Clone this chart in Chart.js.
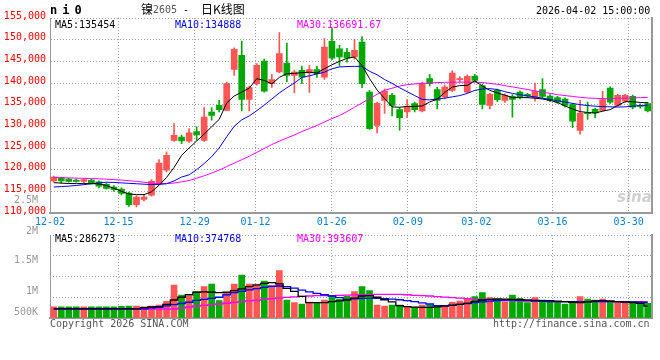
<!DOCTYPE html>
<html>
<head>
<meta charset="utf-8">
<script src="https://cdn.jsdelivr.net/npm/chart.js@4.4.1/dist/chart.umd.min.js"></script>
<style>
  body { margin: 0; background: #fff; width: 660px; height: 360px; position: relative; overflow: hidden; font-family: "DejaVu Sans Mono", monospace; }
  canvas { position: absolute; left: 0; }
  #price { top: 0; }
  #vol { top: 190px; }
  .t { position: absolute; font-size: 10px; line-height: 10px; white-space: nowrap; }
  .cjk { font-family: 'Noto Sans CJK SC', sans-serif; font-size: 12px; line-height: 12px; }
</style>
</head>
<body>
<canvas id="price" width="660" height="225" style="width:660px;height:225px"></canvas>
<canvas id="vol" width="660" height="170" style="width:660px;height:170px"></canvas>

<div class="t" style="left:50px;top:4px;font-size:12px;line-height:12px;font-weight:bold;letter-spacing:5px">ni0</div>
<div class="t cjk" style="left:141px;top:3px">镍</div>
<div class="t" style="left:153px;top:5px;color:#555">2605</div>
<div class="t" style="left:183px;top:5px">-</div>
<div class="t cjk" style="left:201px;top:3px">日K线图</div>
<div class="t" style="left:536px;top:6px">2026-04-02 15:00:00</div>

<div class="t" style="left:55px;top:19.5px;color:#000">MA5:135454</div>
<div class="t" style="left:175px;top:19.5px;color:#0000ff">MA10:134888</div>
<div class="t" style="left:297px;top:19.5px;color:#ff00ff">MA30:136691.67</div>

<div class="t" style="left:55px;top:234px;color:#000">MA5:286273</div>
<div class="t" style="left:175px;top:234px;color:#0000ff">MA10:374768</div>
<div class="t" style="left:297px;top:234px;color:#ff00ff">MA30:393607</div>

<div class="t" style="left:617px;top:190px;font-family:'DejaVu Sans';font-size:15px;line-height:15px;font-style:italic;font-weight:bold;color:rgba(150,150,150,0.45)">sina</div>

<div class="t" style="left:50px;top:319px;color:#555">Copyright 2026 SINA.COM</div>
<div class="t" style="left:493px;top:319px;color:#555">http://finance.sina.com.cn</div>

<script>
// trading days 12-02 .. 04-02
const dates = [
  '12-02','12-03','12-04','12-05','12-08','12-09','12-10','12-11','12-12',
  '12-15','12-16','12-17','12-18','12-19','12-22','12-23','12-24','12-25','12-26',
  '12-29','12-30','12-31','01-05','01-06','01-07','01-08','01-09',
  '01-12','01-13','01-14','01-15','01-16','01-19','01-20','01-21','01-22','01-23',
  '01-26','01-27','01-28','01-29','01-30','02-02','02-03','02-04','02-05','02-06',
  '02-09','02-10','02-11','02-12','02-13','02-24','02-25','02-26','02-27',
  '03-02','03-03','03-04','03-05','03-06','03-09','03-10','03-11','03-12','03-13',
  '03-16','03-17','03-18','03-19','03-20','03-23','03-24','03-25','03-26','03-27',
  '03-30','03-31','04-01','04-02'
];
const tickDates = ['12-02','12-15','12-29','01-12','01-26','02-09','03-02','03-16','03-30'];

const open = [
  117400,118100,117800,117600,117300,117600,117200,116600,116000,115500,
  114600,111900,113150,114100,116800,119900,126770,127530,126600,128800,
  126770,133300,134840,133690,143150,146380,136230,139850,145060,139850,
  142530,144600,141760,142920,142300,143080,141370,149600,147900,147100,
  145990,149450,137910,130230,135990,137150,133850,133300,135230,133530,
  141000,138470,136760,138300,140770,137910,141600,139430,134840,138300,
  136000,136920,137900,137380,136530,138460,136990,136620,136300,135000,
  129070,133070,133920,133700,138830,134840,135830,136920,134840,135230
];
const high = [
  118500,118300,118000,117900,118000,117900,117400,116900,116300,115800,
  114800,114000,114200,117700,122300,124100,130620,128000,129500,129900,
  134310,134300,136000,140200,148100,149680,139300,144500,145500,141990,
  151610,149220,143000,143900,144000,143900,150230,152600,148700,148000,
  150000,150700,138300,135600,138600,137600,134300,136200,135600,140200,
  142000,139000,139500,142800,141500,141900,142000,139800,137600,138600,
  137500,137300,138200,137600,140000,141000,137300,136900,136600,135300,
  136000,135600,134200,138100,139100,137400,137400,137200,135200,135500
];
const low = [
  117200,116900,117100,117100,117000,116700,115800,115500,115000,114200,
  111500,111400,112800,113900,116500,119500,126500,126000,126300,126800,
  126500,131400,133300,133690,141760,133530,133530,139500,137900,139000,
  142300,140300,137770,139850,137800,141300,140800,145400,143900,144800,
  145500,138900,129300,128500,133000,132400,129100,132000,133300,133300,
  139300,134000,136400,138000,140200,137700,140300,134000,134000,135700,
  135500,132140,136300,136600,135800,136500,135700,135300,134500,129700,
  128200,131600,132000,133500,135300,134600,135500,134000,134200,133300
];
const close = [
  118300,117400,117300,117300,117700,117000,116200,115700,115400,114500,
  111900,113700,113700,117300,121500,123300,127920,126610,128500,128000,
  132140,132540,133850,139850,147760,136230,138930,144070,138140,140770,
  146770,141760,142530,141370,143080,142160,148300,145750,145990,145800,
  147530,139850,129470,135300,138140,134840,132000,134610,133850,139850,
  139850,136000,139060,142300,141000,141530,140610,135050,137380,136160,
  137150,136230,136760,136990,138070,136920,136000,135600,134840,131220,
  133070,132930,133070,136160,135600,137150,137150,134450,134610,133530
];

const ma5 = [
  117000,116900,116800,116780,116780,116780,116700,116350,115700,115000,
  114400,114240,114240,114900,116400,118200,120500,123300,125000,126600,
  128200,129900,131600,135400,137000,137900,138800,141000,140600,139800,
  141300,142160,142200,142400,142500,142300,143300,144200,145000,145700,
  146000,144070,141000,138400,136400,134500,134400,134600,134600,134700,
  135600,136300,137800,139060,139400,139460,140500,139300,138300,137700,
  137200,136620,136620,136620,136500,136300,136000,135500,134700,134000,
  133400,133200,133070,133500,133850,134800,135700,135700,135500,135454
];
const ma10 = [
  116000,116100,116200,116350,116550,116750,116950,117100,117050,116950,
  116850,116750,116650,116550,116600,116750,117400,118300,118800,120000,
  121400,123000,125000,127600,130000,131500,132400,133600,134900,136300,
  137700,138900,140000,141300,141650,142100,142500,143300,143700,143800,
  143840,143840,142700,141900,140800,139900,138900,138000,137100,136200,
  136100,136300,136500,136800,137100,137600,138300,138600,138700,138500,
  138000,137600,137300,137000,136800,136500,136200,135900,135600,135300,
  135000,134800,134650,134550,134500,134450,134500,134650,134800,134888
];
const ma30 = [
  118200,118150,118100,118050,118000,117950,117900,117800,117700,117600,
  117450,117300,117100,116900,116800,116800,116900,117200,117500,118000,
  118600,119200,119900,120700,121500,122300,123100,124000,124900,125800,
  126600,127300,128000,128800,129500,130200,131000,131800,132500,133400,
  134400,135400,136400,137400,138300,138800,139300,139600,139800,139900,
  140000,140100,140150,140200,140200,140200,140200,140100,139900,139700,
  139400,139100,138800,138500,138200,137900,137600,137300,137100,136900,
  136700,136550,136450,136400,136400,136450,136500,136550,136620,136692
];

const volume = [
  272000,272000,272000,272000,272000,272000,272000,272000,272000,280000,
  285000,285000,272000,285000,313000,400000,795000,554000,530000,634000,
  755000,819000,418000,610000,819000,1036000,819000,795000,892000,771000,
  1140000,434000,369000,337000,386000,353000,434000,514000,450000,530000,
  634000,755000,658000,313000,289000,313000,313000,273000,257000,313000,
  313000,289000,289000,378000,410000,474000,514000,610000,490000,450000,
  393000,554000,474000,369000,490000,434000,418000,393000,337000,393000,
  514000,458000,434000,458000,410000,393000,393000,369000,353000,353000
];
const volMa5 = [
  220000,220000,220000,220000,220000,220000,220000,220000,220000,220000,
  220000,220000,250000,265000,273000,330000,434000,500000,560000,620000,
  630000,620000,610000,620000,660000,700000,755000,800000,836000,851000,
  820000,715000,640000,520000,369000,369000,369000,393000,415000,434000,
  480000,530000,537000,500000,440000,390000,300000,272000,262000,257000,
  257000,270000,290000,305000,330000,354000,400000,434000,450000,458000,
  455000,450000,445000,434000,425000,420000,418000,405000,393000,380000,
  369000,390000,410000,418000,410000,393000,385000,370000,354000,286273
];
const volMa10 = [
  220000,220000,220000,220000,220000,220000,220000,220000,220000,220000,
  220000,220000,220000,245000,258000,290000,320000,350000,380000,425000,
  450000,475000,500000,560000,610000,640000,680000,710000,740000,765000,
  771000,755000,720000,670000,630000,595000,560000,530000,490000,450000,
  460000,474000,474000,474000,466000,455000,440000,420000,395000,365000,
  337000,300000,290000,310000,330000,350000,370000,390000,405000,420000,
  434000,430000,425000,418000,410000,400000,395000,393000,393000,393000,
  393000,393000,393000,393000,393000,393000,390000,385000,380000,374768
];
const volMa30 = [
  217000,217000,217000,217000,217000,217000,217000,217000,217000,217000,
  217000,217000,217000,217000,217000,217000,217000,240000,265000,289000,
  305000,321000,337000,356000,375000,393000,412000,431000,450000,466000,
  483000,499000,510000,520000,530000,537000,538000,540000,545000,550000,
  555000,560000,564000,568000,570000,571000,571000,560000,545000,537000,
  530000,516000,505000,490000,477000,467000,457000,447000,438000,432000,
  427000,422000,416000,410000,406000,402000,398000,395000,393000,393000,
  393000,393000,393000,393000,393000,393000,393200,393400,393500,393607
];
// volume axis labels and where they sit on the volume scale
const volLabels = ['500K', '1M', '1.5M', '2M', '2.5M'];
const volLabelAt = [137000, 634000, 1398000, 2096000, 2830000];

const MONO = "'DejaVu Sans Mono', monospace";
const RED = '#ff5555', GREEN = '#00a800', GRID = '#a0a0a0', FRAME = '#999';
const colors = close.map((c, i) => c >= open[i] ? RED : GREEN);
const tickIdx = tickDates.map(d => dates.indexOf(d));

function maLine(data, color, width, stepped) {
  return { type: 'line', data, borderColor: color, borderWidth: width, pointRadius: 0,
           tension: 0, stepped: stepped || false, order: 1, xAxisID: 'x', yAxisID: 'y' };
}

// date grid: its own index axis across the plot
function dateAxis(showLabels, height) {
  return {
    type: 'linear', position: 'bottom', min: 0, max: dates.length - 1, offset: false,
    afterBuildTicks: s => { s.ticks = tickIdx.map(i => ({ value: i })); },
    grid: { color: GRID, drawTicks: false, offset: false },
    border: { color: FRAME, width: 2, dash: [1, 2] },
    ticks: { display: showLabels, autoSkip: false, maxRotation: 0, padding: 3, color: '#0a7fd0',
             font: { family: MONO, size: 10 }, callback: (v, i) => tickDates[i] },
    afterFit: s => { s.height = height; }
  };
}
const rightFrame = {
  position: 'right', display: true,
  ticks: { display: false }, grid: { display: false },
  border: { color: FRAME, width: 2 },
  afterFit: s => { s.width = 0; }
};

const base = {
  responsive: false,
  animation: false,
  devicePixelRatio: 1,
  plugins: { legend: { display: false }, tooltip: { enabled: false } }
};

new Chart(document.getElementById('price'), {
  type: 'bar',
  data: {
    labels: dates,
    datasets: [
      maLine(ma5, '#000', 1),
      maLine(ma10, '#0000ff', 1),
      maLine(ma30, '#ff00ff', 1),
      { data: open.map((o, i) => [o, close[i]]), backgroundColor: colors, barThickness: 6,
        grouped: false, minBarLength: 1, order: 2, xAxisID: 'x', yAxisID: 'y' },
      { data: low.map((l, i) => [l, high[i]]), backgroundColor: colors, barThickness: 1,
        grouped: false, order: 3, xAxisID: 'x', yAxisID: 'y' }
    ]
  },
  options: {
    ...base,
    layout: { padding: { top: 18, right: 8.5, left: 0, bottom: 0 } },
    scales: {
      x: { type: 'category', display: false, offset: true },
      xg: dateAxis(true, 12),
      y: {
        min: 110000, max: 155000,
        ticks: { stepSize: 5000, color: '#f00', padding: 4, labelOffset: -2,
                 font: { family: MONO, size: 10 } },
        grid: { color: GRID, drawTicks: false },
        border: { color: FRAME, width: 1, dash: [1, 2] },
        afterFit: s => { s.width = 50; }
      },
      yR: rightFrame
    }
  }
});

new Chart(document.getElementById('vol'), {
  type: 'bar',
  data: {
    labels: dates,
    datasets: [
      maLine(volMa5, '#000', 1.3, 'middle'),
      maLine(volMa10, '#0000ff', 1.3, 'middle'),
      maLine(volMa30, '#ff00ff', 1.3, 'middle'),
      { data: volume, backgroundColor: colors, barThickness: 6, order: 2, xAxisID: 'x', yAxisID: 'y' }
    ]
  },
  options: {
    ...base,
    layout: { padding: { top: 45, right: 8.5, left: 0, bottom: 0 } },
    scales: {
      x: { type: 'category', display: false, offset: true },
      xg: dateAxis(false, 42),
      y: {
        min: 0, max: 2000000,
        ticks: { display: false, stepSize: 500000 },
        grid: { color: GRID, drawTicks: false },
        border: { display: false, dash: [1, 2] },
        afterFit: s => { s.width = 0; }
      },
      yl: {
        position: 'left', min: 0, max: 2000000,
        afterBuildTicks: s => { s.ticks = volLabelAt.map(v => ({ value: v })); },
        ticks: { autoSkip: false, color: '#999', padding: 4, font: { family: MONO, size: 10 },
                 callback: (v, i) => volLabels[i] },
        grid: { display: false },
        border: { color: FRAME, width: 1 },
        afterFit: s => { s.width = 50; }
      },
      yR: rightFrame
    }
  }
});
</script>
</body>
</html>
